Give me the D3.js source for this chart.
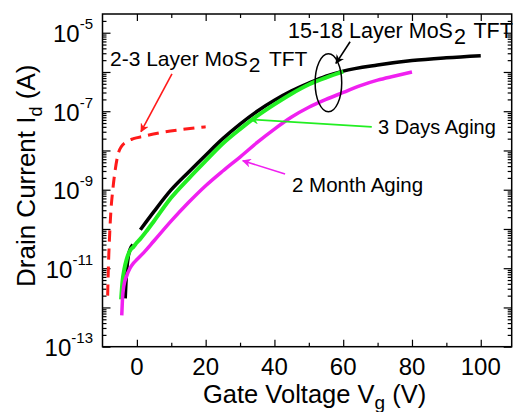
<!DOCTYPE html>
<html>
<head>
<meta charset="utf-8">
<script src="https://cdn.jsdelivr.net/npm/d3@7"></script>
<style>
  html, body { margin: 0; padding: 0; background: #fff; }
  svg { display: block; font-family: "Liberation Sans", Arial, sans-serif; }
</style>
</head>
<body>
<svg id="chart" width="514" height="412"></svg>
<script>
// ---------- data ----------
const xTicksMajor = [0, 20, 40, 60, 80, 100];
const xTicksMinor = [10, 30, 50, 70, 90];
const yDecades = [-13, -12, -11, -10, -9, -8, -7, -6, -5];
const yLabelExps = [-13, -11, -9, -7, -5];

// 15-18 layer MoS2 TFT (as fabricated), lower segment and main segment
const blackLowVg = [-3.4, -3.2, -2.9, -2.5, -2.0, -1.2];
const blackLowId = [1.7e-12, 4.0e-12, 1.0e-11, 2.0e-11, 3.0e-11, 4.0e-11];
const blackVg = [1, 5, 10, 15, 20, 25, 30, 35, 40, 45, 50, 55, 60, 70, 80, 90, 100];
const blackId = [9.5e-11, 2.8e-10, 1.0e-9, 2.8e-9, 7.6e-9, 2.0e-8, 4.7e-8, 1.0e-7, 1.9e-7,
                 3.3e-7, 5.2e-7, 7.8e-7, 1.05e-6, 1.5e-6, 1.95e-6, 2.3e-6, 2.6e-6];

// 3 days aging
const greenVg = [-4.6, -4.2, -3.6, -3.0, -2.0, -1.0, 0, 1, 3, 5, 10, 15, 20, 25, 30, 35, 40, 45, 50, 55, 60];
const greenId = [1.6e-12, 4.5e-12, 1.0e-11, 1.66e-11, 2.8e-11, 3.5e-11, 4.5e-11, 5.6e-11, 9.3e-11,
                 1.6e-10, 6.3e-10, 1.9e-9, 5.4e-9, 1.5e-8, 3.5e-8, 7.6e-8, 1.5e-7, 2.8e-7,
                 4.8e-7, 7.2e-7, 1.02e-6];

// 2 month aging
const magentaVg = [-4.4, -4.2, -3.8, -3.0, -2.0, -1.0, 0, 2, 5, 10, 15, 20, 25, 30, 35, 40,
                   45, 50, 55, 60, 65, 70, 75, 80];
const magentaId = [6.3e-13, 1.6e-12, 3.5e-12, 6.3e-12, 1.0e-11, 1.35e-11, 1.66e-11, 2.5e-11,
                   5.0e-11, 1.6e-10, 4.7e-10, 1.26e-9, 3.0e-9, 6.8e-9, 1.6e-8, 3.5e-8, 7.1e-8,
                   1.26e-7, 2.0e-7, 3.0e-7, 4.5e-7, 6.2e-7, 7.9e-7, 1.0e-6];

// 2-3 layer MoS2 TFT
const redVg = [-8.5, -8.3, -8.0, -7.6, -7.0, -6.3, -5.5, -4.5, -3, -1, 2, 6, 13, 20];
const redId = [2.0e-12, 1.0e-11, 5.0e-11, 2.5e-10, 1.0e-9, 3.2e-9, 7.9e-9, 1.26e-8, 1.66e-8,
               2.0e-8, 2.3e-8, 2.75e-8, 3.4e-8, 4.0e-8];

// annotation anchors in data space [Vg, Id]
const redArrow = [[10.2, 8.9e-7], [1.2, 3.0e-8]];
const greenArrow = [[68.3, 4.0e-8], [32.9, 6.2e-8]];
const magentaArrow = [[43.1, 2.5e-9], [30.8, 5.5e-9]];
const blackArrow = [[62.0, 5.9e-6], [57.9, 1.66e-6]];
const ellipseCenter = [55.7, 5.3e-7];

// ---------- layout ----------
const svg = d3.select("#chart");
const L = 102.5, R = 511.7, T = 14, B = 346.7;
const x = d3.scaleLinear().domain([-10, 109]).range([L, R]);
const y = d3.scaleLog().domain([1e-13, 3e-5]).range([B, T]);

const zip = (a, b) => a.map((v, i) => [v, b[i]]);
const line = d3.line().x(d => x(d[0])).y(d => y(d[1])).curve(d3.curveMonotoneX);

// markers
const defs = svg.append("defs");
function marker(id, color) {
  defs.append("marker").attr("id", id).attr("viewBox", "0 0 10 10")
    .attr("refX", 9).attr("refY", 5).attr("markerWidth", 9).attr("markerHeight", 9)
    .attr("markerUnits", "userSpaceOnUse").attr("orient", "auto")
    .append("path").attr("d", "M0,0 L10,5 L0,10 L3,5 Z").attr("fill", color);
}
marker("mRed", "#ff1a1a");
marker("mGreen", "#22ee22");
marker("mMag", "#f020f0");
marker("mBlack", "#000");

// ---------- axes ----------
const minorY = [];
for (let e = -13; e <= -5; e++) for (let m = 2; m <= 9; m++) {
  const v = m * Math.pow(10, e);
  if (v <= 3e-5) minorY.push(v);
}
const majorY = yDecades.map(e => Math.pow(10, e));

function styleAxis(g) {
  g.select(".domain").remove();
  g.selectAll("line").attr("stroke", "#000").attr("stroke-width", 1.2);
  g.selectAll("text").remove();
}

svg.append("g").attr("transform", `translate(${L},0)`)
  .call(d3.axisLeft(y).tickValues(majorY).tickSize(-8).tickFormat("")).call(styleAxis);
svg.append("g").attr("transform", `translate(${L},0)`)
  .call(d3.axisLeft(y).tickValues(minorY).tickSize(-4).tickFormat("")).call(styleAxis);
svg.append("g").attr("transform", `translate(${R},0)`)
  .call(d3.axisRight(y).tickValues(majorY).tickSize(-8).tickFormat("")).call(styleAxis);
svg.append("g").attr("transform", `translate(${R},0)`)
  .call(d3.axisRight(y).tickValues(minorY).tickSize(-4).tickFormat("")).call(styleAxis);

svg.append("g").attr("transform", `translate(0,${B})`)
  .call(d3.axisBottom(x).tickValues(xTicksMajor).tickSize(-7).tickFormat("")).call(styleAxis);
svg.append("g").attr("transform", `translate(0,${B})`)
  .call(d3.axisBottom(x).tickValues(xTicksMinor).tickSize(-4).tickFormat("")).call(styleAxis);
svg.append("g").attr("transform", `translate(0,${T})`)
  .call(d3.axisTop(x).tickValues(xTicksMajor).tickSize(-7).tickFormat("")).call(styleAxis);
svg.append("g").attr("transform", `translate(0,${T})`)
  .call(d3.axisTop(x).tickValues(xTicksMinor).tickSize(-4).tickFormat("")).call(styleAxis);

// frame
svg.append("rect").attr("x", L).attr("y", T).attr("width", R - L).attr("height", B - T)
  .attr("fill", "none").attr("stroke", "#000").attr("stroke-width", 1.5);

// x tick labels
svg.append("g").selectAll("text").data(xTicksMajor).join("text")
  .attr("x", d => x(d)).attr("y", 374.5).attr("text-anchor", "middle")
  .attr("font-size", 24).attr("fill", "#000").text(d => d);

// y tick labels
const yl = svg.append("g").selectAll("text").data(yLabelExps).join("text")
  .attr("x", 93).attr("y", d => y(Math.pow(10, d)) + 9.5).attr("text-anchor", "end")
  .attr("font-size", 24).attr("fill", "#000");
yl.append("tspan").text("10");
yl.append("tspan").attr("dy", -13).attr("font-size", 15).text(d => "-" + Math.abs(d));

// axis titles
const xt = svg.append("text").attr("x", 203).attr("y", 403).attr("font-size", 25.5).attr("fill", "#000");
xt.append("tspan").text("Gate Voltage V");
xt.append("tspan").attr("dy", 6).attr("font-size", 19).text("g");
xt.append("tspan").attr("dy", -6).text(" (V)");

const yt = svg.append("text").attr("transform", "translate(35,287) rotate(-90)")
  .attr("font-size", 26).attr("fill", "#000");
yt.append("tspan").text("Drain Current I");
yt.append("tspan").attr("dy", 7).attr("font-size", 18).text("d");
yt.append("tspan").attr("dy", -7).text(" (A)");

// ---------- curves ----------
const curves = svg.append("g");
curves.append("path").datum(zip(redVg, redId)).attr("d", line)
  .attr("fill", "none").attr("stroke", "#ff1a1a").attr("stroke-width", 3)
  .attr("stroke-dasharray", "11,7");
curves.append("path").datum(zip(blackLowVg, blackLowId)).attr("d", line)
  .attr("fill", "none").attr("stroke", "#000").attr("stroke-width", 3.5);
curves.append("path").datum(zip(blackVg, blackId)).attr("d", line)
  .attr("fill", "none").attr("stroke", "#000").attr("stroke-width", 3.5);
curves.append("path").datum(zip(greenVg, greenId)).attr("d", line)
  .attr("fill", "none").attr("stroke", "#22ee22").attr("stroke-width", 4);
curves.append("path").datum(zip(magentaVg, magentaId)).attr("d", line)
  .attr("fill", "none").attr("stroke", "#f020f0").attr("stroke-width", 3.5);

// ---------- annotations ----------
function arrow(pts, color, mid) {
  svg.append("line")
    .attr("x1", x(pts[0][0])).attr("y1", y(pts[0][1]))
    .attr("x2", x(pts[1][0])).attr("y2", y(pts[1][1]))
    .attr("stroke", color).attr("stroke-width", 1.6).attr("marker-end", `url(#${mid})`);
}
arrow(redArrow, "#ff1a1a", "mRed");
arrow(greenArrow, "#22ee22", "mGreen");
arrow(magentaArrow, "#f020f0", "mMag");
arrow(blackArrow, "#000", "mBlack");

svg.append("ellipse").attr("cx", x(ellipseCenter[0])).attr("cy", y(ellipseCenter[1]))
  .attr("rx", 13.3).attr("ry", 29).attr("fill", "none").attr("stroke", "#000").attr("stroke-width", 1.5);

function label(tx, ty, fs, parts) {
  const t = svg.append("text").attr("x", tx).attr("y", ty).attr("font-size", fs).attr("fill", "#000");
  parts.forEach(p => {
    const s = t.append("tspan").text(p.t);
    if (p.dy) s.attr("dy", p.dy);
    if (p.dx) s.attr("dx", p.dx);
    if (p.fs) s.attr("font-size", p.fs);
  });
}
label(288, 37.5, 21.5, [{t: "15-18 Layer MoS"}, {t: "2", dy: 6, dx: 1}, {t: " TFT", dy: -6, dx: 2}]);
label(110, 65.7, 21, [{t: "2-3 Layer MoS"}, {t: "2", dy: 6, dx: 1}, {t: " TFT", dy: -6, dx: 3}]);
label(378, 134, 20, [{t: "3 Days Aging"}]);
label(292, 191.5, 20.5, [{t: "2 Month Aging"}]);
</script>
</body>
</html>
